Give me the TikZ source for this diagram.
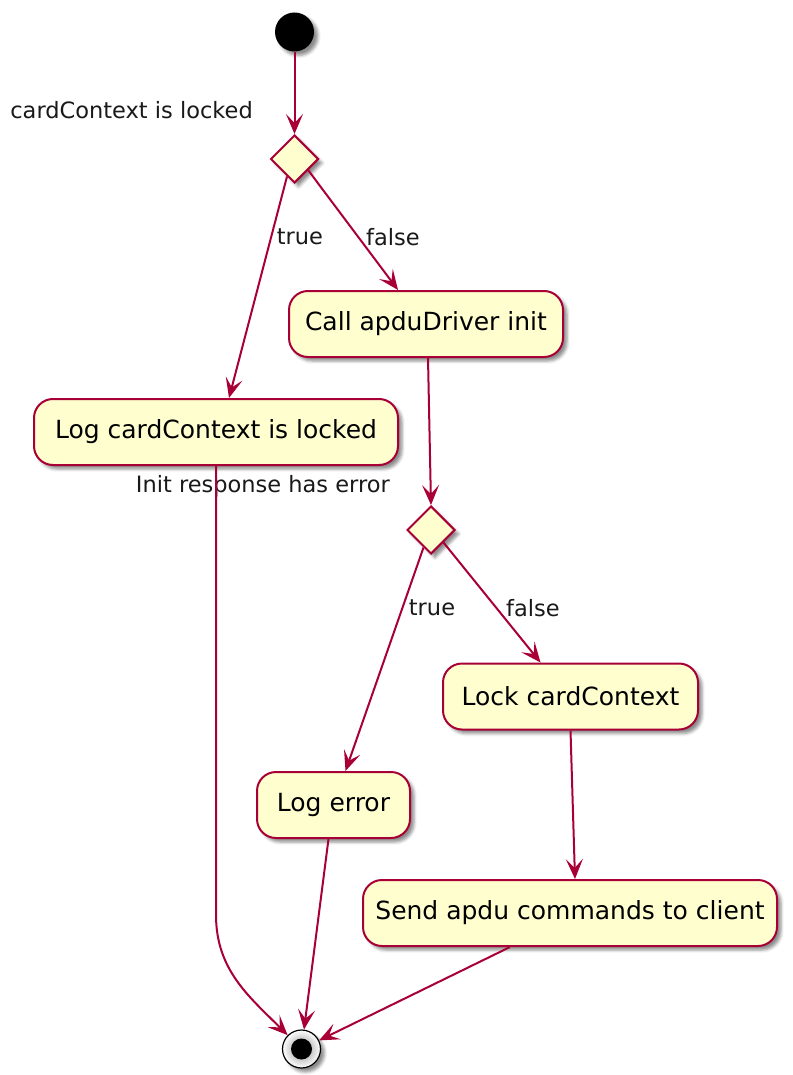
\documentclass[tikz,border=0pt]{standalone}
\usepackage{fontspec}
\setmainfont{DejaVu Sans}
\usetikzlibrary{shapes.geometric,arrows.meta,shadows.blur,calc}
\definecolor{umlred}{HTML}{A80036}
\definecolor{umlfill}{HTML}{FEFECE}
\tikzset{
  x=1pt, y=-1pt,
  shade/.style={blur shadow={shadow xshift=4pt, shadow yshift=-4pt, shadow blur radius=3pt, shadow opacity=45}},
  action/.style={draw=umlred, fill=umlfill, line width=2pt, rounded corners=19pt,
    minimum height=66pt, inner sep=0pt, font=\fontsize{25}{29}\selectfont, shade},
  choice/.style={diamond, draw=umlred, fill=umlfill, line width=2pt, aspect=1,
    minimum width=48pt, minimum height=48pt, inner sep=0pt, shade},
  lbl/.style={font=\fontsize{22.5}{26}\selectfont, inner sep=0pt, text=black!90},
  flow/.style={draw=umlred, line width=2pt,
    -{Stealth[length=20pt, width=17pt, inset=9pt]}},
}
\begin{document}
\begin{tikzpicture}
\useasboundingbox (0,0) rectangle (792,1075);

% start and end points
\node (start) [circle, fill=black, minimum size=39pt, inner sep=0pt, shade] at (294.5,32) {};
\node (stop) [circle, draw=black, line width=1.2pt, inner color=black!45, outer color=white,
  minimum size=38pt, inner sep=0pt, shade] at (301.5,1049) {};
\node (stopdot) [circle, fill=black, minimum size=21pt, inner sep=0pt] at (stop) {};

% decisions
\node (d1) [choice] at (294.5,159) {};
\node (d2) [choice] at (431,530) {};

% actions
\node (init)  [action, minimum width=274pt] at (426,324) {Call apduDriver init};
\node (logc)  [action, minimum width=364pt] at (216,432) {Log cardContext is locked};
\node (lock)  [action, minimum width=255pt] at (570.5,696.5) {Lock cardContext};
\node (loge)  [action, minimum width=153pt] at (333.5,805) {Log error};
\node (send)  [action, minimum width=414pt] at (570,913) {Send apdu commands to client};

% decision texts
\node (q1) [lbl, anchor=east] at (253,110) {cardContext is locked};
\node (q2) [lbl, anchor=east] at (390,486) {Init response has error};

% branch labels
\node (t1) [lbl] at (300,237) {true};
\node (f1) [lbl] at (393,237) {false};
\node (t2) [lbl] at (432,608) {true};
\node (f2) [lbl] at (533,608) {false};

% connectors
\coordinate (bend) at (216,915);
\draw[flow] (start) -- (d1.north);
\draw[flow] ($(d1.south)!0.3!(d1.west)$) -- ($(logc.north)+(13,0)$);
\draw[flow] ($(d1.south)!0.55!(d1.east)$) -- ($(init.north)+(-28,0)$);
\draw[flow] ($(init.south)+(2,0)$) -- (d2.north);
\draw[flow] ($(d2.south)!0.3!(d2.west)$) -- ($(loge.north)+(12,0)$);
\draw[flow] ($(d2.south)!0.5!(d2.east)$) -- ($(lock.north)+(-30,0)$);
\draw[flow] (lock.south) -- ($(send.north)+(5,0)$);
\draw[flow] (logc.south) -- (bend) to[out=-90, in=135] (stop.north west);
\draw[flow] ($(loge.south)+(-5,0)$) -- (stop);
\draw[flow] ($(send.south)+(-60,0)$) -- (stop);
\end{tikzpicture}
\end{document}
